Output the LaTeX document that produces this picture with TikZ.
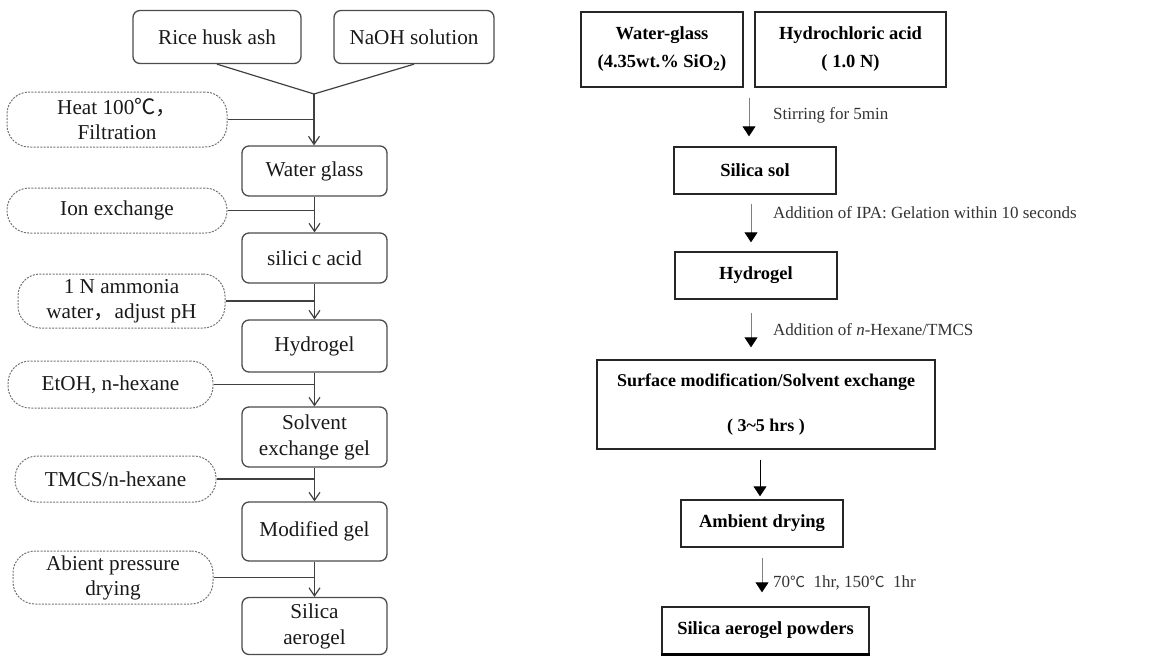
\documentclass[tikz,border=0pt]{standalone}
\usepackage{fontspec}
\setmainfont{Liberation Serif}
\newfontfamily\cjk{Noto Sans CJK SC}
\usetikzlibrary{arrows.meta,calc}
\begin{document}
\begin{tikzpicture}[x=1pt,y=-1pt,
  lbox/.style={draw=black!70, line width=1.3pt, rounded corners=7pt, inner sep=0pt, align=center, text=black!90, minimum width=145pt, font=\fontsize{21.2}{26}\selectfont},
  cond/.style={draw=black!55, dash pattern=on 2pt off 1.3pt, line width=1pt, rounded corners=22pt, inner sep=0pt, align=center, text=black!90, font=\fontsize{21.2}{25}\selectfont},
  larr/.style={draw=black!75, line width=1.2pt, -{Straight Barb[length=8pt,width=11pt]}},
  lline/.style={draw=black!75, line width=1.2pt},
  rbox/.style={draw=black!85, line width=1.4pt, inner sep=0pt, align=center, font=\bfseries\fontsize{18.5}{28}\selectfont},
  rarr/.style={draw=black!50, line width=0.9pt, -{Triangle[length=10pt,width=13pt,color=black]}},
  rlab/.style={anchor=west, text=black!80, inner sep=0pt, font=\fontsize{17}{20}\selectfont}
]
\path[use as bounding box] (0,0) rectangle (1161,656);

% ---------- left flow ----------
\node[lbox, minimum width=168pt, minimum height=53pt] (rha) at (217,37) {Rice husk ash};
\node[lbox, minimum width=160pt, minimum height=53pt] (naoh) at (414,37) {NaOH solution};
\coordinate (j) at (314,94);
\node[cond, minimum width=220pt, minimum height=55pt] (heat) at (117,119.5) {Heat 100{\cjk ℃}{\cjk ，}\\Filtration};
\node[lbox, minimum height=50pt] (wg) at (314.5,171) {Water glass};
\node[cond, minimum width=220pt, minimum height=45pt] (ion) at (117,210.5) {Ion exchange};
\node[lbox, minimum height=50pt] (sil) at (314.5,258) {silici\,c acid};
\node[cond, minimum width=207pt, minimum height=54pt] (amm) at (121.5,301) {1 N ammonia\\water{\cjk ，}adjust pH};
\node[lbox, minimum height=52pt] (hyd) at (314.5,346) {Hydrogel};
\node[cond, minimum width=205pt, minimum height=47pt] (etoh) at (110.5,384.5) {EtOH, n-hexane};
\node[lbox, minimum height=60pt] (solv) at (314.5,437) {Solvent\\exchange gel};
\node[cond, minimum width=201pt, minimum height=46pt] (tmcs) at (115.5,479) {TMCS/n-hexane};
\node[lbox, minimum height=59pt] (mod) at (314.5,531.5) {Modified gel};
\node[cond, minimum width=200pt, minimum height=53pt] (abient) at (113,577.5) {Abient pressure\\drying};
\node[lbox, minimum height=57pt] (aero) at (314.5,626) {Silica\\aerogel};

\draw[lline] (rha.south) -- (j);
\draw[lline] (naoh.south) -- (j);
\draw[larr] (j) -- (j |- wg.north);
\draw[lline] (heat.east) -- (heat.east -| j);
\draw[larr] (wg.south) -- (sil.north);
\draw[lline] (ion.east) -- (ion.east -| wg.south);
\draw[larr] (sil.south) -- (hyd.north);
\draw[lline] (amm.east) -- (amm.east -| sil.south);
\draw[larr] (hyd.south) -- (solv.north);
\draw[lline] (etoh.east) -- (etoh.east -| hyd.south);
\draw[larr] (solv.south) -- (mod.north);
\draw[lline] (tmcs.east) -- (tmcs.east -| solv.south);
\draw[larr] (mod.south) -- (aero.north);
\draw[lline] (abient.east) -- (abient.east -| mod.south);

% ---------- right flow ----------
\node[rbox, minimum width=162pt, minimum height=75pt] (wgl) at (662,49.5) {Water-glass\\(4.35wt.\% SiO\textsubscript{2})};
\node[rbox, minimum width=191pt, minimum height=75pt] (hcl) at (850.5,49.5) {Hydrochloric acid\\( 1.0 N)};
\node[rbox, minimum width=162pt, minimum height=47pt] (ssol) at (755,170.5) {Silica sol};
\node[rbox, minimum width=162pt, minimum height=47pt] (hydr) at (756,275.5) {Hydrogel};
\node[rbox, minimum width=338pt, minimum height=89pt, font=\bfseries\fontsize{18}{45}\selectfont] (surf) at (766,404.5) {Surface modification/Solvent exchange\\( 3{\textasciitilde}5 hrs )};
\node[rbox, minimum width=162pt, minimum height=47pt] (amb) at (762,523.5) {Ambient drying};
\node[rbox, minimum width=207pt, minimum height=47pt] (pow) at (765.5,630.5) {Silica aerogel powders};
\draw[line width=3pt, black] (pow.south west) -- (pow.south east);

\coordinate (g1) at ($(wgl.south east)!.5!(hcl.south west)$);
\draw[rarr, shorten <=10pt, shorten >=10pt] (g1) -- (g1 |- ssol.north);
\node[rlab] (l1) at (773,115) {Stirring for 5min};
\draw[rarr, shorten <=9pt, shorten >=9pt] ([xshift=-4pt]ssol.south) -- ([xshift=-4pt]ssol.south |- hydr.north);
\node[rlab] (l2) at (773,213) {Addition of IPA: Gelation within 10 seconds};
\draw[rarr, shorten <=13pt, shorten >=12pt] ([xshift=-5pt]hydr.south) -- ([xshift=-5pt]hydr.south |- surf.north);
\node[rlab] (l3) at (773,330) {Addition of \textit{n}-Hexane/TMCS};
\draw[rarr, draw=black, shorten <=10pt, shorten >=3pt] ([xshift=-6pt]surf.south) -- ([xshift=-6pt]surf.south |- amb.north);
\draw[rarr, shorten <=10pt, shorten >=14pt] (amb.south) -- (amb.south |- pow.north);
\node[rlab] (l5) at (773,583) {70{\cjk\fontsize{15}{15}\selectfont ℃}\ \ 1hr, 150{\cjk\fontsize{15}{15}\selectfont ℃}\ \ 1hr};
\end{tikzpicture}
\end{document}
